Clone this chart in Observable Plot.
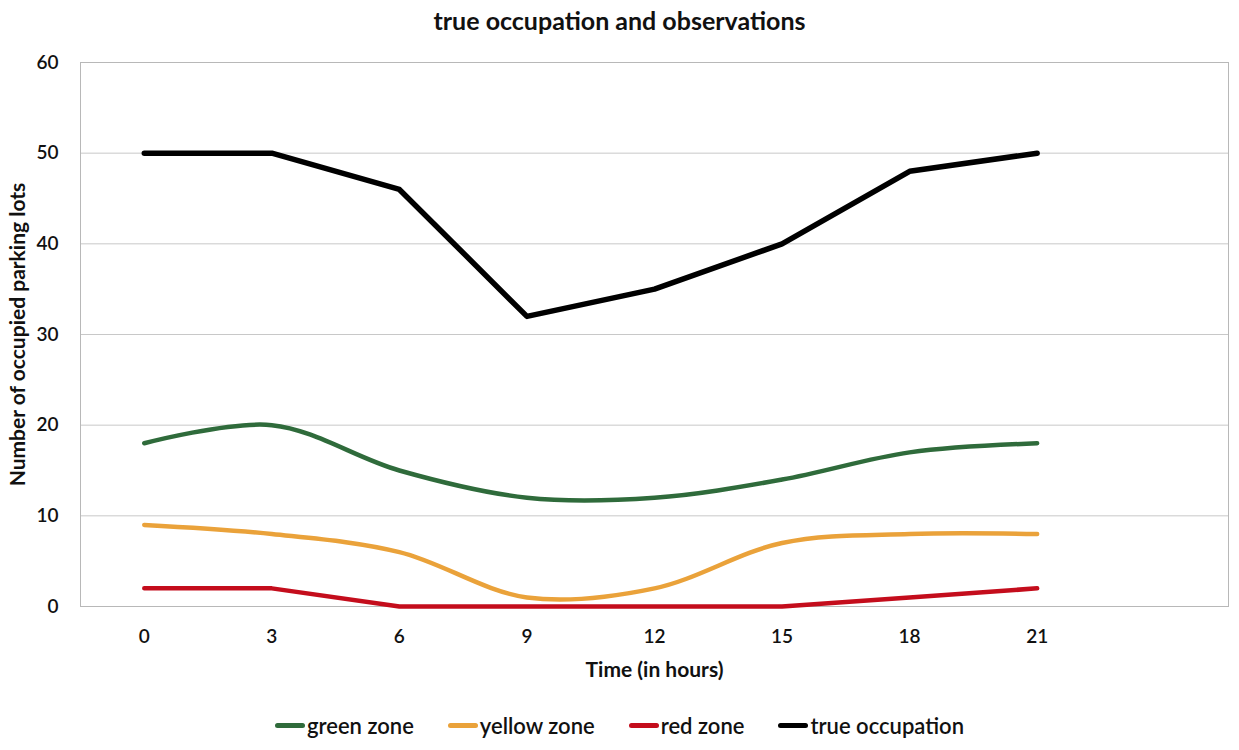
<!DOCTYPE html>
<html>
<head>
<meta charset="utf-8">
<script src="https://cdn.jsdelivr.net/npm/d3@7"></script>
<script src="https://cdn.jsdelivr.net/npm/@observablehq/plot@0.6"></script>
<style>
  body { margin: 0; background: #fff; font-family: Lato, "Open Sans", sans-serif; width: 1239px; }
  #title { height: 40px; line-height: 40px; text-align: center; font-size: 25px; font-weight: 700; color: #111; }
  #legend { display: flex; justify-content: center; gap: 34px; margin-top: 22px; font-size: 22px; font-weight: 600; color: #111; }
  .item { display: flex; align-items: center; }
  .sw { width: 30px; height: 5px; border-radius: 3px; margin-right: 2px; }
</style>
</head>
<body>
<div id="title">true occupation and observations</div>
<div id="chart"></div>
<div id="legend"></div>
<script>
const hours = [0, 3, 6, 9, 12, 15, 18, 21];
const trueOccupation = [50, 50, 46, 32, 35, 40, 48, 50];
const greenZone = [18, 20, 15, 12, 12, 14, 17, 18];
const yellowZone = [9, 8, 6, 1, 2, 7, 8, 8];
const redZone = [2, 2, 0, 0, 0, 0, 1, 2];
const yTicks = [0, 10, 20, 30, 40, 50, 60];

const series = [
  {name: "green zone", values: greenZone, color: "#2f6b3b", curve: "catmull-rom", width: 4.5},
  {name: "yellow zone", values: yellowZone, color: "#eaa23a", curve: "catmull-rom", width: 4.5},
  {name: "red zone", values: redZone, color: "#c40d1c", curve: "linear", width: 4.5},
  {name: "true occupation", values: trueOccupation, color: "#000000", curve: "linear", width: 5.5}
];

const toRows = s => hours.map((h, i) => ({hour: h, value: s.values[i]}));

const chart = Plot.plot({
  width: 1239,
  height: 650,
  marginTop: 22,
  marginLeft: 80,
  marginRight: 11,
  marginBottom: 84,
  style: {fontFamily: "Lato, 'Open Sans', sans-serif", fontSize: "19px", color: "#111"},
  x: {domain: [-1.5, 25.5], ticks: hours, tickSize: 0, label: null},
  y: {domain: [0, 60], ticks: yTicks, tickSize: 0, label: null},
  marks: [
    Plot.gridY(yTicks, {stroke: "#c8c8c8", strokeOpacity: 1}),
    Plot.frame({stroke: "#b8b8b8"}),
    ...series.map(s => Plot.line(toRows(s), {x: "hour", y: "value", stroke: s.color, strokeWidth: s.width, curve: s.curve, strokeLinecap: "round", strokeLinejoin: "round"})),
    Plot.axisX({ticks: hours, tickSize: 0, tickPadding: 23, fontWeight: 600, fontSize: 19, label: null}),
    Plot.axisY({ticks: yTicks, tickSize: 0, tickPadding: 22, fontWeight: 600, fontSize: 19, label: null}),
    Plot.text(["Time (in hours)"], {frameAnchor: "bottom", dy: 70, fontWeight: 700, fontSize: 21, fill: "#111"}),
    Plot.text(["Number of occupied parking lots"], {frameAnchor: "left", textAnchor: "middle", dx: -62, rotate: -90, fontWeight: 700, fontSize: 21, fill: "#111"})
  ]
});
document.getElementById("chart").appendChild(chart);

const legend = document.getElementById("legend");
for (const s of series) {
  const item = document.createElement("div");
  item.className = "item";
  const sw = document.createElement("div");
  sw.className = "sw";
  sw.style.background = s.color;
  const t = document.createElement("span");
  t.textContent = s.name;
  item.appendChild(sw);
  item.appendChild(t);
  legend.appendChild(item);
}
</script>
</body>
</html>
